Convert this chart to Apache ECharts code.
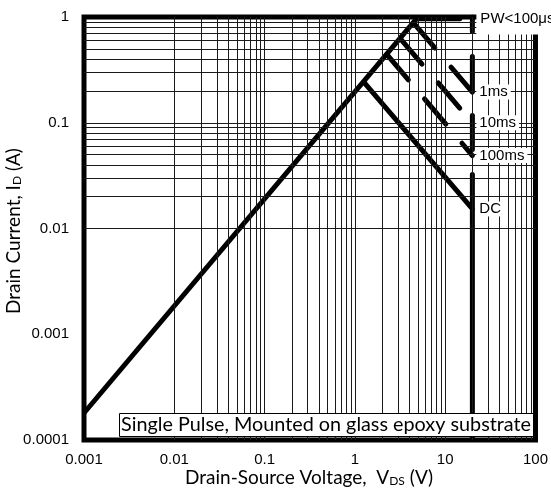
<!DOCTYPE html>
<html><head><meta charset="utf-8">
<script src="https://cdn.jsdelivr.net/npm/echarts@6/dist/echarts.min.js"></script>
<style>html,body{margin:0;padding:0;background:#fff}#c{width:551px;height:496px}</style>
</head><body><div id="c"></div>
<script>
// ---- data ----
const xTickLabels = ['0.001', '0.01', '0.1', '1', '10', '100'];
const yTickLabels = ['0.0001', '0.001', '0.01', '0.1', '1'];
const ronLimit   = [[0.001, 0.00018], [4.85, 0.97]];
const pw100us    = [[4.85, 0.965], [14.5, 0.965]];
const pulse1ms   = [[4.45, 0.88], [20, 0.195]];
const pulse10ms  = [[3.2, 0.62], [20, 0.1]];
const pulse100ms = [[2.27, 0.44], [20, 0.049]];
const vdssLimit  = [[20, 1], [20, 0.0153]];
const dcLimit    = [[1.27, 0.24], [20, 0.0153], [20, 0.0001]];
const curveLabelNames  = ['PW<100μs', '1ms', '10ms', '100ms', 'DC'];
const curveLabelPoints = [[20, 0.97], [20, 0.195], [20, 0.1], [20, 0.049], [20, 0.0153]];

// grid line positions (log decades, 1..9)
const vGrid = [], hGrid = [];
for (let e = -3; e <= 1; e++) for (let k = 1; k <= 9; k++) vGrid.push(k * Math.pow(10, e));
for (let e = -4; e <= -1; e++) for (let k = 1; k <= 9; k++) hGrid.push(k * Math.pow(10, e));

const chart = echarts.init(document.getElementById('c'), null, {renderer: 'canvas'});
const thick = {color: '#000', width: 5};
const dashed = {color: '#000', width: 5, type: [33, 25], cap: 'round'};
const labelFont = 'Liberation Sans, Arial, sans-serif';

const option = {
  animation: false,
  backgroundColor: '#fff',
  grid: {left: 84, right: 13, top: 17, bottom: 56, show: true, borderColor: '#000', borderWidth: 5, backgroundColor: 'transparent'},
  xAxis: {
    type: 'log', logBase: 10, min: 0.001, max: 100,
    axisLine: {show: false}, axisTick: {show: false}, splitLine: {show: false},
    axisLabel: {margin: 12, color: '#000', fontSize: 15, fontFamily: labelFont,
      formatter: v => xTickLabels[Math.round(Math.log10(v)) + 3]}
  },
  yAxis: {
    type: 'log', logBase: 10, min: 0.0001, max: 1,
    axisLine: {show: false}, axisTick: {show: false}, splitLine: {show: false},
    axisLabel: {margin: 15, color: '#000', fontSize: 15, fontFamily: labelFont,
      formatter: v => yTickLabels[Math.round(Math.log10(v)) + 4]}
  },
  title: {
    text: 'Single Pulse, Mounted on glass epoxy substrate',
    left: 119, top: 413, padding: [1, 3, 1, 2], itemGap: 0,
    backgroundColor: '#fff', borderColor: '#000', borderWidth: 1,
    textStyle: {fontFamily: 'Lato', fontSize: 19.8, fontWeight: 'normal', color: '#000', lineHeight: 22}
  },
  graphic: [
    {type: 'text', x: 309, y: 478, style: {
      text: 'Drain-Source Voltage,  V{sub|DS} (V)', fill: '#000', font: '19px Lato',
      align: 'center', verticalAlign: 'middle',
      rich: {sub: {fontSize: 12, fontFamily: 'Lato', lineHeight: 12, verticalAlign: 'bottom'}}}},
    {type: 'text', x: 14, y: 231, rotation: Math.PI / 2, style: {
      text: 'Drain Current, I{sub|D} (A)', fill: '#000', font: '19px Lato',
      align: 'center', verticalAlign: 'middle',
      rich: {sub: {fontSize: 12, fontFamily: 'Lato', lineHeight: 12, verticalAlign: 'bottom'}}}}
  ],
  series: [
    {type: 'line', z: 1, data: [[0.001, 0.0001]], symbol: 'none', lineStyle: {width: 0}, silent: true,
      markLine: {silent: true, symbol: ['none', 'none'], label: {show: false}, animation: false,
        lineStyle: {color: '#1a1a1a', width: 1, type: 'solid'},
        data: vGrid.map(v => ({xAxis: v})).concat(hGrid.map(v => ({yAxis: v})))}},
    {type: 'line', z: 3, data: ronLimit, symbol: 'none', lineStyle: thick},
    {type: 'line', z: 3, data: pw100us, symbol: 'none', lineStyle: {color: '#000', width: 5, cap: 'round'}},
    {type: 'line', z: 3, data: pulse1ms, symbol: 'none', lineStyle: dashed},
    {type: 'line', z: 3, data: pulse10ms, symbol: 'none', lineStyle: dashed},
    {type: 'line', z: 3, data: pulse100ms, symbol: 'none', lineStyle: dashed},
    {type: 'line', z: 3, data: vdssLimit, symbol: 'none', lineStyle: {color: '#000', width: 5, type: [34, 25], dashOffset: 19.5, cap: 'round'}},
    {type: 'line', z: 3, data: dcLimit, symbol: 'none', lineStyle: thick}
  ]
};
chart.setOption(option);

// curve labels placed through the chart's own coordinate conversion
const labelEls = curveLabelPoints.map((p, i) => {
  const px = chart.convertToPixel({gridIndex: 0}, p);
  return {type: 'text', z: 100, zlevel: 0, x: px[0] + 4, y: px[1], style: {
    text: curveLabelNames[i], fill: '#000', font: '15px ' + labelFont,
    align: 'left', verticalAlign: 'middle', backgroundColor: '#fff',
    padding: i === 0 ? [9, 30, 8, 4] : [0, 3], lineHeight: 15}};
});
chart.setOption({graphic: option.graphic.concat(labelEls)});
</script></body></html>
